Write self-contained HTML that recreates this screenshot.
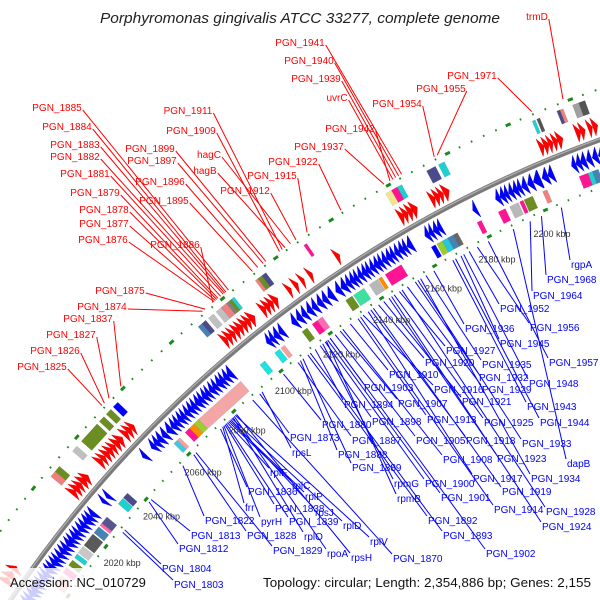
<!DOCTYPE html>
<html><head><meta charset="utf-8">
<style>
html,body{margin:0;padding:0;background:#fff;width:600px;height:600px;overflow:hidden;}
svg{display:block;font-family:"Liberation Sans",sans-serif;overflow:hidden;}
</style></head>
<body>
<svg id="chart" width="600" height="600" viewBox="0 0 600 600">
<defs><clipPath id="frame"><rect x="0" y="0" width="600" height="600"/></clipPath></defs>
<rect x="0" y="0" width="600" height="600" fill="#fff"/>
<g clip-path="url(#frame)">
<g id="lines"></g>
<g id="rings"></g>
<g id="features"></g>
<g id="labels"></g>
</g>
<text x="300" y="23" text-anchor="middle" font-style="italic" font-size="15" fill="#222" textLength="400" lengthAdjust="spacingAndGlyphs">Porphyromonas gingivalis ATCC 33277, complete genome</text>
<rect x="0" y="568" width="152" height="32" fill="#fff" opacity="0.8"/>
<text x="10" y="587" font-size="13" fill="#111">Accession: NC_010729</text>
<text x="263" y="587" font-size="13" fill="#111" textLength="328" lengthAdjust="spacingAndGlyphs">Topology: circular; Length: 2,354,886 bp; Genes: 2,155</text>
</svg>
<script>
const GENOME_KBP = 2354.886;
const fwdStart = [1992,1994,1996.5, 2026,2027.5,2029,2030.5,2032, 2038.5,2040,2041.5,2043,2044.5,2046,2047.5, 2050,2051.5,2053, 2092,2093.5,2095,2096.5,2098,2099.5,2101,2102.5, 2107,2108.5,2110,2111.5, 2117,2119.5,2122,2125,2135, 2158,2159.5,2161,2162.5, 2169,2170.5,2172,2173.5, 2206,2207.5,2209,2210.5,2212, 2218,2219.5,2222,2223.5];
const fwdLen = [1.8,2.1,1.6, 1.5,1.7,1.4,1.9,1.6, 1.5,1.4,1.6,1.5,1.4,1.7,1.8, 1.5,1.6,1.4, 1.5,1.6,1.4,1.7,1.5,1.6,1.5,1.8, 1.5,1.6,1.4,1.7, 1.3,1.4,1.2,1.3,1.4, 1.6,1.5,1.7,1.8, 1.5,1.6,1.4,1.9, 1.5,1.6,1.4,1.5,1.7, 1.6,1.5,1.4,1.6];
const revStart = [1990,1991.5,1993,1994.5,1996,1997.5,1999,2000.5,2002,2003.5,2005,2006.5,2008,2009.5,2011,2012.5,2014,2015.5,2017,2018.5,2020,2021.5,2023,2024.5,
 2030,2032,2049,
 2053,2054.5,2056,2058,2060,2062,2063.5,2065,2066.5,2068,2069.5,2071,2072.5,2074,2075.5,2077,2078.5,2080,2081.5,2083,2084.5,2086,
 2102,2103.5,2105,2107,2112,2114,2116,2118,2120,2122,2124,2126,
 2129,2131,2133,2134.5,2136,2137.5,2139,2140.5,2142,2143.5,2145,2146.5,2148,2149.5,2151,2152.5,2154,2155.5,
 2162,2163.5,2165,2166.5,
 2179,
 2187,2188.5,2190,2191.5,2193,2194.5,2196,2198,2200,2203,2205,
 2213,2214.5,2216,2218,2220,2222];
const revLen = [1.6,1.5,1.7,1.5,1.6,1.4,1.6,1.5,1.7,1.5,1.6,1.4,1.5,1.6,1.5,1.7,1.5,1.6,1.4,1.6,1.5,1.7,1.5,1.6,
 1.2,1.3,1.4,
 1.5,1.6,1.8,1.7,1.9,1.6,1.5,1.6,1.4,1.5,1.6,1.5,1.7,1.5,1.6,1.4,1.6,1.5,1.7,1.5,1.6,1.8,
 1.5,1.4,1.8,1.6,1.7,1.8,1.7,1.8,1.7,1.8,1.7,2.0,
 1.8,1.9,1.5,1.6,1.4,1.5,1.6,1.4,1.5,1.6,1.4,1.5,1.6,1.4,1.5,1.6,1.4,1.8,
 1.5,1.4,1.6,1.5,
 1.4,
 1.5,1.6,1.4,1.5,1.6,1.4,1.8,1.9,2.5,2.0,1.8,
 1.5,1.6,1.8,1.7,1.8,1.9];
const innerBoxStart = [2000,2005,2008,2011,2013,2016,2021,2024,2025, 2033,2035.5, 2059,2060.5, 2064,2066,2068,2070, 2096,2102,2104.5, 2113,2117,2119, 2130,2133,2139,2142.5, 2145, 2162,2164,2166,2168,2170, 2178.5, 2186,2190,2193.5,2195, 2201.5, 2214,2217,2218.5];
const innerBoxEnd = [2004,2007,2010,2012.5,2015.5,2020.5,2023.5,2025,2027.5, 2035.3,2037.5, 2060.5,2061.7, 2066,2068,2070,2088, 2098,2104,2106, 2115,2119,2121, 2132.5,2137,2142.3,2143.7, 2151, 2163.5,2166,2168,2170,2171.5, 2180, 2188.5,2193,2194.7,2198, 2203, 2217,2218.5,2220.5];
const innerBoxColor = ['#f4a0a0','#ff3399','#6b8e23','#20d0d0','#c8c8c8','#5a5a5a','#4682b4','#ff66aa','#55558f', '#20d0d0','#4b4b8c', '#40c8e0','#f4a0a0', '#ff1493','#ff8c00','#9acd32','#f4a6a6', '#20e0e0','#20e0e0','#f4a0a0', '#6b8e23','#ff1493','#ff69b4', '#6b8e23','#3ce0a0','#b8b8b8','#ff8c00', '#ff1493', '#0000ff','#9acd32','#20c8e0','#4682b4','#666666', '#ff1493', '#ff1493','#b8b8b8','#ff1493','#6b8e23', '#f08080', '#ff1493','#20d0d0','#4682b4'];
const outerBoxStart = [2026,2028, 2036,2040,2048,2051,2054, 2089,2090.5,2093,2096,2098,2100,2101,2102, 2111,2112,2113.5, 2129, 2158,2160,2162, 2172,2176, 2207,2208.5, 2215,2216, 2220,2222];
const outerBoxEnd = [2028,2030, 2038,2047,2050,2053,2056, 2090.5,2092,2095,2098,2100,2101,2102,2103, 2112,2113.5,2115, 2130, 2160,2162,2163.5, 2175,2178, 2208,2209.5, 2216,2217, 2222,2224];
const outerBoxColor = ['#f08080','#6b8e23', '#c0c0c0','#6b8e23','#6b8e23','#6b8e23','#0000ff', '#4682b4','#4b4b8c','#c0c0c0','#c0c0c0','#f08080','#808080','#6b8e23','#20d0d0', '#f08080','#6b8e23','#4b4b8c', '#ff1493', '#f0e68c','#ff1493','#20d0d0', '#4b4b8c','#20d0d0', '#20d0d0','#555555', '#4b4b8c','#f08080', '#a0a0a0','#555555'];
const tickKbp = [2000,2020,2040,2060,2080,2100,2120,2140,2160,2180,2200];
const tickLabels = ['2000 kbp','2020 kbp','2040 kbp','2060 kbp','2080 kbp','2100 kbp','2120 kbp','2140 kbp','2160 kbp','2180 kbp','2200 kbp'];
const redNames = ['PGN_1941','PGN_1940','PGN_1939','uvrC','PGN_1942','PGN_1937','PGN_1922','PGN_1911','PGN_1909','PGN_1899','PGN_1897','PGN_1896','PGN_1895','hagC','hagB','PGN_1915','PGN_1912','PGN_1886','PGN_1885','PGN_1884','PGN_1883','PGN_1882','PGN_1881','PGN_1879','PGN_1878','PGN_1877','PGN_1876','PGN_1875','PGN_1874','PGN_1837','PGN_1827','PGN_1826','PGN_1825','PGN_1954','PGN_1955','PGN_1971','trmD'];
const redKbp = [2165,2164,2163,2162,2161,2159,2144,2123,2122,2117,2116,2114,2112,2126,2124,2132,2128,2097,2103,2102,2101.5,2101,2100,2099,2098.5,2098,2097.5,2094,2093,2060,2055,2053,2052,2176,2177,2208,2218];
const redLabelX = [300,309,316,337,350,319,293,188,191,150,152,160,164,209,205,272,245,175,57,67,75,75,85,95,104,104,103,120,102,88,71,55,42,397,441,472,537];
const redLabelY = [42,60,78,97,128,146,161,110,130,148,160,181,200,154,170,175,190,244,107,126,144,156,173,192,209,223,239,290,306,318,334,350,366,103,88,75,16];
const blueNames = ['rgpA','PGN_1968','PGN_1964','PGN_1952','PGN_1956','PGN_1936','PGN_1945','PGN_1957','PGN_1927','PGN_1935','PGN_1920','PGN_1910','PGN_1932','PGN_1948','PGN_1916','PGN_1903','PGN_1907','PGN_1929','PGN_1921','PGN_1943','PGN_1894','PGN_1913','PGN_1898','PGN_1925','PGN_1944','PGN_1880','PGN_1887','PGN_1905','PGN_1918','PGN_1933','PGN_1873','rpsL','PGN_1888','PGN_1908','PGN_1923','dapB','PGN_1889','PGN_1917','PGN_1934','rplF','rpmG','PGN_1900','PGN_1919','rplC','PGN_1836','rplP','rpmB','PGN_1901','PGN_1838','rpsJ','PGN_1914','PGN_1928','frr','PGN_1822','pyrH','PGN_1839','rplD','PGN_1892','PGN_1924','PGN_1813','PGN_1828','rplO','PGN_1893','PGN_1812','PGN_1829','rpoA','rplV','PGN_1902','rpsH','PGN_1870','PGN_1804','PGN_1803'];
const blueKbp = [2205,2198,2194,2172,2175,2159,2169,2179,2146,2156,2138,2127,2152,2170,2132,2119,2123,2149,2140,2166,2113,2130,2115,2144,2167,2100,2106,2121,2135,2153,2090,2091,2107,2124,2142,2188,2108,2134,2154,2076,2116,2117,2136,2076.5,2073,2077,2117.5,2118,2075,2077.5,2131,2147,2074,2056,2074.5,2075.5,2078,2110,2143,2041,2061,2078.5,2111,2040,2062,2079,2079.5,2119,2080,2087,2028,2027];
const blueLabelX = [571,547,533,500,530,465,500,549,446,482,425,389,479,529,434,364,398,482,462,527,344,427,372,484,540,322,352,416,466,522,290,292,338,443,497,567,352,473,531,270,394,425,502,292,248,305,397,441,275,315,494,546,245,205,261,289,343,428,542,191,247,304,443,179,273,327,370,486,351,393,162,174];
const blueLabelY = [264,279,295,308,327,328,343,362,350,364,362,374,377,383,389,387,403,389,401,406,404,419,421,422,422,424,440,440,440,443,437,452,454,459,458,463,467,478,478,472,483,483,491,485,491,496,498,497,508,512,509,511,507,520,521,521,525,520,526,535,535,536,535,548,550,553,541,553,557,558,568,584];

const SVGNS = 'http://www.w3.org/2000/svg';
const CX = 1013, CY = 1276;
function ang(p){ return (270 - (GENOME_KBP - p) * 360 / GENOME_KBP) * Math.PI / 180; }
function pt(p, r){ const a = ang(p); return [CX + r * Math.cos(a), CY + r * Math.sin(a)]; }
function mk(tag, parent){ const e = document.createElementNS(SVGNS, tag); parent.appendChild(e); return e; }
const gLines = document.getElementById('lines');
const gRings = document.getElementById('rings');
const gFeat = document.getElementById('features');
const gLab = document.getElementById('labels');

const bb = mk('circle', gRings);
bb.setAttribute('cx', CX); bb.setAttribute('cy', CY); bb.setAttribute('r', 1209);
bb.setAttribute('fill', 'none'); bb.setAttribute('stroke', '#7a7a7a'); bb.setAttribute('stroke-width', 5);


const bb2 = mk('circle', gRings);
bb2.setAttribute('cx', CX); bb2.setAttribute('cy', CY); bb2.setAttribute('r', 1210);
bb2.setAttribute('fill', 'none'); bb2.setAttribute('stroke', '#b0b0b0'); bb2.setAttribute('stroke-width', 1.2);



[1257, 1164].forEach(function(r){
  for (let p = 1988; p <= 2228; p += 4) {
    const isMajor = (Math.round(p) % 20 === 0);
    const a = pt(p - (isMajor ? 0.8 : 0.25), r), b = pt(p + (isMajor ? 0.8 : 0.25), r);
    const d = mk('line', gRings);
    d.setAttribute('x1', a[0]); d.setAttribute('y1', a[1]); d.setAttribute('x2', b[0]); d.setAttribute('y2', b[1]);
    d.setAttribute('stroke', '#1a8a1a'); d.setAttribute('stroke-width', isMajor ? 3 : 2);
    
    
  }
});
tickKbp.forEach(function(p, i){
  const c = pt(p, 1138);
  const t = mk('text', gRings);
  t.setAttribute('x', c[0] - 4); t.setAttribute('y', c[1] + 3);
  t.setAttribute('text-anchor', 'middle'); t.setAttribute('font-size', '9'); t.setAttribute('fill', '#333');
  t.textContent = tickLabels[i];
  
  
});

function poly(points, fill, parent){
  const e = mk('polygon', parent);
  e.setAttribute('points', points.map(function(q){ return q[0].toFixed(1) + ',' + q[1].toFixed(1); }).join(' '));
  e.setAttribute('fill', fill);
  return e;
}
function arrow(s, e, r0, r1, dir, fill){
  const len = e - s, head = Math.min(len, 2.2), rm = (r0 + r1) / 2;
  let pts;
  if (dir > 0) pts = [pt(s, r0), pt(e - head, r0), pt(e, rm), pt(e - head, r1), pt(s, r1)];
  else pts = [pt(e, r0), pt(s + head, r0), pt(s, rm), pt(s + head, r1), pt(e, r1)];
  return poly(pts, fill, gFeat);
}
function box(s, e, r0, r1, fill){
  return poly([pt(s, r0), pt(e, r0), pt(e, r1), pt(s, r1)], fill, gFeat);
}

outerBoxStart.forEach(function(s, i){
  const el = box(s, outerBoxEnd[i], 1237, 1251, outerBoxColor[i]);
  el.setAttribute('stroke', 'rgba(0,0,0,0.15)'); el.setAttribute('stroke-width', '0.5');
  
  
});
innerBoxStart.forEach(function(s, i){
  const el = box(s, innerBoxEnd[i], 1169, 1182, innerBoxColor[i]);
  el.setAttribute('stroke', 'rgba(0,0,0,0.15)'); el.setAttribute('stroke-width', '0.5');
  
  
});
fwdStart.forEach(function(s, i){
  const el = arrow(s, s + fwdLen[i], 1214, 1233, 1, '#ff0000');
  el.setAttribute('stroke', '#d00000'); el.setAttribute('stroke-width', '0.4');
  
  
});
revStart.forEach(function(s, i){
  const el = arrow(s, s + revLen[i], 1185, 1204, -1, '#0000ff');
  el.setAttribute('stroke', '#0000c0'); el.setAttribute('stroke-width', '0.4');
  
  
});

redNames.forEach(function(n, i){
  const t = mk('text', gLab);
  t.setAttribute('x', redLabelX[i]); t.setAttribute('y', redLabelY[i] + 4);
  t.setAttribute('text-anchor', 'middle'); t.setAttribute('font-size', '10'); t.setAttribute('fill', '#ff0000');
  t.textContent = n;
  
  
  const w = t.getComputedTextLength ? t.getComputedTextLength() : 48;
  const a = [redLabelX[i] + w / 2 + 1, redLabelY[i] + 3];
  const b = pt(redKbp[i], 1260);
  const l = mk('line', gLines);
  l.setAttribute('x1', a[0]); l.setAttribute('y1', a[1]); l.setAttribute('x2', b[0]); l.setAttribute('y2', b[1]);
  l.setAttribute('stroke', '#ff0000'); l.setAttribute('stroke-width', '1');
  
  
});
blueNames.forEach(function(n, i){
  const t = mk('text', gLab);
  t.setAttribute('x', blueLabelX[i]); t.setAttribute('y', blueLabelY[i] + 4);
  t.setAttribute('font-size', '10'); t.setAttribute('fill', '#0000ff');
  t.textContent = n;
  
  
  const a = [blueLabelX[i] - 1, blueLabelY[i] - 4];
  const b = pt(blueKbp[i], 1160);
  const l = mk('line', gLines);
  l.setAttribute('x1', a[0]); l.setAttribute('y1', a[1]); l.setAttribute('x2', b[0]); l.setAttribute('y2', b[1]);
  l.setAttribute('stroke', '#0000ff'); l.setAttribute('stroke-width', '1');
  
  
});
</script>
</body></html>
